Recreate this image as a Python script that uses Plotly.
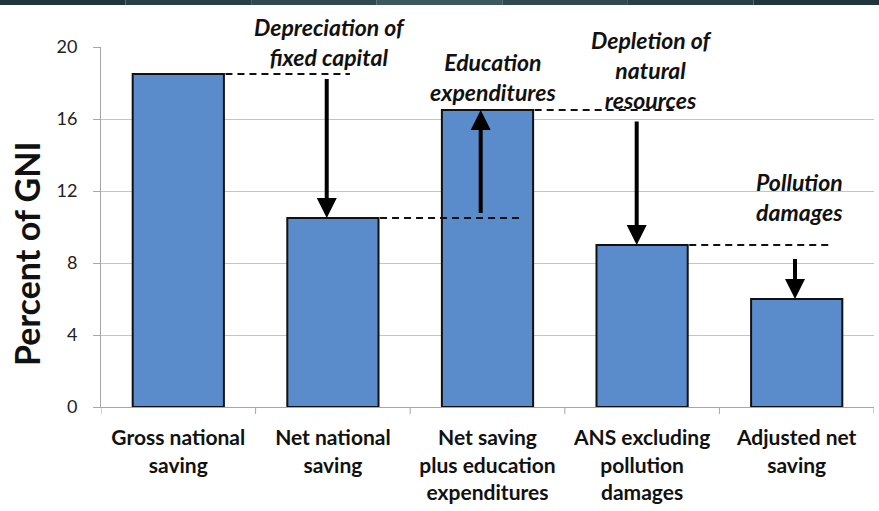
import plotly.graph_objects as go

# Savings components, percent of GNI
categories = [
    "Gross national<br>saving",
    "Net national<br>saving",
    "Net saving<br>plus education<br>expenditures",
    "ANS excluding<br>pollution<br>damages",
    "Adjusted net<br>saving",
]
values = [18.5, 10.5, 16.5, 9.0, 6.0]

# Adjustment labels between consecutive bars
step_labels = [
    "Depreciation of<br>fixed capital",
    "Education<br>expenditures",
    "Depletion of<br>natural<br>resources",
    "Pollution<br>damages",
]
# arrow tails (value where each arrow starts)
arrow_tail = [18.3, 10.7, 15.95, 8.3]

y_ticks = [0, 4, 8, 12, 16, 20]
y_title = "Percent of GNI"

FONT = "Lato"
BAR_COLOR = "#5a8ccc"

fig = go.Figure()
fig.add_trace(go.Bar(
    x=list(range(len(categories))),
    y=values,
    marker=dict(color=BAR_COLOR, line=dict(color="#111111", width=2)),
    width=0.59,
    hoverinfo="skip",
))

shapes = []
annotations = []

# dashed guides, arrows and captions for each step
dash_end = [1.11, 2.22, 3.23, 4.235]
arrow_x = [0.96, 1.956, 2.965, 3.989]
label_pos = [(0.98, 1.014), (2.035, 0.918), (3.06, 0.9375), (4.02, 0.583)]
for i in range(4):
    shapes.append(dict(
        type="line", xref="x", yref="y",
        x0=i + 0.305, x1=dash_end[i], y0=values[i], y1=values[i],
        line=dict(color="#111111", width=2.2, dash="7px,5px"),
    ))
    annotations.append(dict(
        x=arrow_x[i], y=values[i + 1], ax=arrow_x[i], ay=arrow_tail[i],
        xref="x", yref="y", axref="x", ayref="y",
        showarrow=True, arrowhead=2, arrowsize=1.0, arrowwidth=4,
        arrowcolor="#000000", text="", standoff=0,
    ))
    lx, ly = label_pos[i]
    annotations.append(dict(
        x=lx, y=ly, xref="x", yref="paper", showarrow=False,
        text="<b><i>" + step_labels[i] + "</i></b>",
        font=dict(family=FONT, size=23, color="#111111"),
        align="center", yanchor="middle", xanchor="center",
    ))

# vertical axis title
annotations.append(dict(
    x=-74 / 773, y=0.425, xref="paper", yref="paper", showarrow=False,
    text="<b>" + y_title + "</b>", textangle=-90,
    font=dict(family=FONT, size=34, color="#111111"),
    xanchor="center", yanchor="middle",
))

# dark banner strip along the top edge
band = ["#1f363c", "#273f45", "#30494f", "#3b585c", "#30494f", "#273f45", "#1f363c"]
for k, c in enumerate(band):
    shapes.append(dict(
        type="rect", xref="paper", yref="paper",
        x0=-101 / 773 + k * (879 / 773) / len(band),
        x1=-101 / 773 + (k + 1) * (879 / 773) / len(band),
        y0=1 + 42 / 360, y1=1 + 48 / 360,
        fillcolor=c, line=dict(width=0), layer="above",
    ))

fig.update_layout(
    width=879, height=511,
    margin=dict(l=101, r=5, t=47, b=104),
    paper_bgcolor="white", plot_bgcolor="white",
    showlegend=False,
    bargap=0.41,
    shapes=shapes,
    annotations=annotations,
    font=dict(family=FONT, color="#111111"),
    yaxis=dict(
        range=[0, 20], tickvals=y_ticks,
        showgrid=True, gridcolor="#c4c4c4", gridwidth=1,
        showline=True, linecolor="#a6a6a6", linewidth=1,
        ticks="outside", ticklen=7, tickcolor="#a6a6a6",
        ticklabelstandoff=12,
        tickfont=dict(family=FONT, size=18, color="#222222"),
        zeroline=False,
    ),
    xaxis=dict(
        tickvals=list(range(len(categories))), ticktext=["<b>" + c + "</b>" for c in categories],
        range=[-0.5, 4.5],
        showline=True, linecolor="#a6a6a6", linewidth=1,
        ticks="",
        ticklabelstandoff=12,
        tickfont=dict(family=FONT, size=21, color="#111111"),
        showgrid=False, zeroline=False,
    ),
)

# boundary tick marks on the category axis
for b in [-0.5, 0.5, 1.5, 2.5, 3.5, 4.5]:
    fig.add_shape(type="line", xref="x", yref="paper", x0=b, x1=b, y0=0, y1=-7 / 360,
                  line=dict(color="#a6a6a6", width=1))

fig.write_html("out.html")
